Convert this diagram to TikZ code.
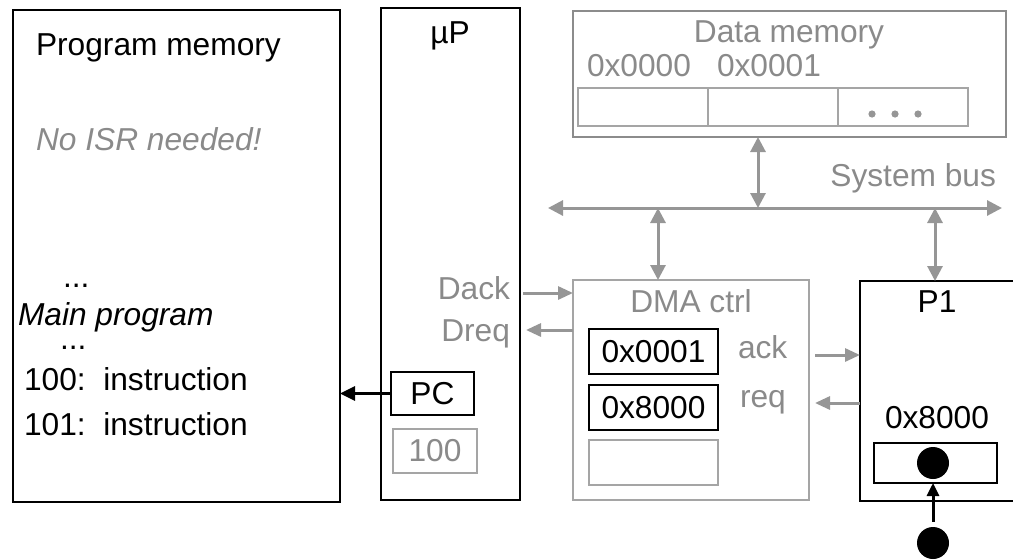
\documentclass[tikz,border=0pt]{standalone}
\usepackage{fontspec}
\setmainfont{Liberation Sans}
\usetikzlibrary{arrows.meta}
\definecolor{gtxt}{RGB}{138,138,138}
\definecolor{gline}{RGB}{165,165,165}
\definecolor{gdark}{RGB}{140,140,140}
\definecolor{garrow}{RGB}{150,150,150}
\begin{document}
\begin{tikzpicture}[x=1pt,y=-1pt,
  box/.style={draw=black, line width=1.9pt, inner sep=0pt, outer sep=0pt, anchor=north west},
  gbox/.style={draw=gline, line width=1.9pt, inner sep=0pt, outer sep=0pt, anchor=north west},
  cellbox/.style={draw=gline, line width=1.5pt, inner sep=0pt, outer sep=0pt, anchor=north west, minimum width=130pt, minimum height=38pt},
  txt/.style={inner sep=0pt, outer sep=0pt, font=\fontsize{31.7}{37}\selectfont},
  gt/.style={txt, text=gtxt},
  garr/.style={draw=garrow, line width=3pt, -{Triangle[length=15pt,width=13pt]}},
  gbi/.style={draw=garrow, line width=3pt, {Triangle[length=15pt,width=15pt]}-{Triangle[length=15pt,width=15pt]}},
  karr/.style={draw=black, line width=3pt, -{Triangle[length=15pt,width=14pt]}},
  blob/.style={circle, fill=black, inner sep=0pt, minimum size=32pt}
]
\useasboundingbox (0,0) rectangle (1013,560);

% Program memory
\node[box, minimum width=327pt, minimum height=492pt] (pm) at (13,10) {};
\node[txt, anchor=base west] (pmt) at (36,55) {Program memory};
\node[gt, anchor=base west, font=\fontsize{31.7}{37}\selectfont\itshape] (isr) at (36,150) {No ISR needed!};
\node[txt, anchor=base west] (d1) at (63,287) {...};
\node[txt, anchor=base west, font=\fontsize{31.7}{37}\selectfont\itshape] (mp) at (18,325) {Main program};
\node[txt, anchor=base west] (d2) at (60,349) {...};
\node[txt, anchor=base west] (i100) at (24,390) {100:\ \ instruction};
\node[txt, anchor=base west] (i101) at (24,435) {101:\ \ instruction};

% microprocessor
\node[box, minimum width=139pt, minimum height=492pt] (up) at (381,8) {};
\node[txt, anchor=base] (upt) at (450,43) {µP};
\node[gt, anchor=base east] (dack) at (510,299) {Dack};
\node[gt, anchor=base east] (dreq) at (510,341) {Dreq};
\node[box, minimum width=83pt, minimum height=43pt] (pc) at (391,372) {};
\node[txt, anchor=base] (pct) at (pc.center |- 0,404) {PC};
\node[gbox, minimum width=84pt, minimum height=44pt] (pcv) at (393,429) {};
\node[gt, anchor=base] (pcvt) at (pcv.center |- 0,461) {100};

% Data memory
\node[draw=gdark, line width=1.9pt, inner sep=0pt, outer sep=0pt, anchor=north west, minimum width=433pt, minimum height=126pt] (dm) at (573,11) {};
\node[gt, anchor=base] (dmt) at (789,42) {Data memory};
\node[gt, anchor=base west] (a0) at (587,76) {0x0000};
\node[gt, anchor=base west] (a1) at (717,76) {0x0001};
\node[cellbox] (c1) at (578,88) {};
\node[cellbox] (c2) at (708,88) {};
\node[cellbox] (c3) at (838,88) {};
\fill[garrow] (872,114) circle (3.6) (895,114) circle (3.6) (918,114) circle (3.6);

% System bus
\coordinate (busL) at (548,208);
\coordinate (busR) at (1002,208);
\draw[gbi] (busL) -- (busR);
\node[gt, anchor=base east] (sbus) at (996,186) {System bus};
\coordinate (dmbus) at (758,208);
\coordinate (dmabus) at (658,208);
\coordinate (p1bus) at (935,208);
\draw[gbi] (dmbus |- dm.south) -- (dmbus);

% DMA controller
\node[gbox, minimum width=236pt, minimum height=220pt] (dma) at (573,280) {};
\node[gt, anchor=base] (dmat) at (691,312) {DMA ctrl};
\node[box, minimum width=129pt, minimum height=45pt] (r1) at (589,329) {};
\node[txt, anchor=base] (r1t) at (r1.center |- 0,362) {0x0001};
\node[box, minimum width=129pt, minimum height=45pt] (r2) at (589,385) {};
\node[txt, anchor=base] (r2t) at (r2.center |- 0,418) {0x8000};
\node[gbox, minimum width=129pt, minimum height=45pt] (r3) at (589,440) {};
\node[gt, anchor=base west] (ack) at (738,358) {ack};
\node[gt, anchor=base west] (req) at (740,407) {req};

% P1
\node[box, minimum width=180pt, minimum height=220pt] (p1) at (860,281) {};
\node[txt, anchor=base] (p1t) at (937,312) {P1};
\node[txt, anchor=base] (p1a) at (937,428) {0x8000};
\node[box, minimum width=123pt, minimum height=40pt] (inb) at (874,443) {};
\node[blob] (dot1) at (933,463) {};
\node[blob] (dot2) at (933,543) {};

% connectors
\draw[gbi] (dmabus) -- (dmabus |- dma.north);
\draw[gbi] (p1bus) -- (p1bus |- p1.north);
\draw[karr] (pc.west) -- (pm.east |- pc.west);
\coordinate (dackS) at (523,293);
\draw[garr] (dackS) -- (dackS -| dma.west);
\coordinate (dreqE) at (526,330);
\draw[garr] (dreqE -| dma.west) -- (dreqE);
\coordinate (ackS) at (815,355);
\draw[garr] (ackS) -- (ackS -| p1.west);
\coordinate (reqE) at (815,403);
\draw[garr] (reqE -| p1.west) -- (reqE);
\draw[draw=black, line width=3pt, -{Triangle[length=13pt,width=12pt]}, shorten <=5pt] (dot2.north) -- (dot2.north |- inb.south);
\end{tikzpicture}
\end{document}
